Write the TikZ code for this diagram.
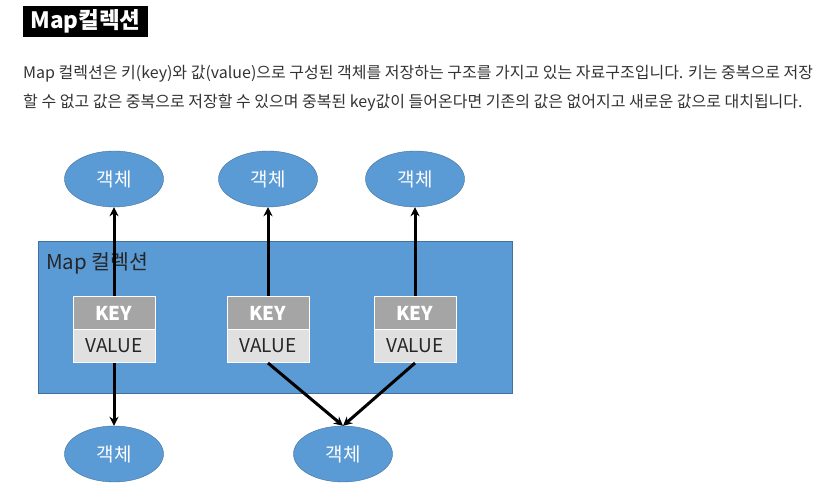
\documentclass[tikz,border=0pt]{standalone}
\usepackage{fontspec}
\setmainfont{Noto Sans CJK KR}
\usetikzlibrary{shapes.geometric,arrows.meta}
\definecolor{mapblue}{HTML}{5B9BD5}
\definecolor{mapedge}{HTML}{41719C}
\definecolor{keygray}{HTML}{A5A5A5}
\definecolor{valgray}{HTML}{E0E0E0}
\definecolor{paratext}{HTML}{333333}
\begin{document}
\begin{tikzpicture}[x=1pt,y=-1pt,>={Stealth[length=9pt,width=9pt]},
  obj/.style={ellipse,draw=mapedge,fill=mapblue,minimum width=99pt,minimum height=56pt,
    inner sep=0pt,text=white,font=\fontsize{19}{19}\selectfont},
  keybox/.style={rectangle,draw=white,line width=1pt,fill=keygray,minimum width=82pt,
    minimum height=33pt,inner sep=0pt,text=white,font=\fontsize{19}{19}\selectfont\bfseries},
  valbox/.style={keybox,fill=valgray,text=black!85,font=\fontsize{19}{19}\selectfont},
  link/.style={->,line width=3pt}]
 \useasboundingbox[fill=white] (0,0) rectangle (838,502);
 % title and text
 \node[fill=black,text=white,minimum width=125pt,minimum height=31pt,inner sep=0pt,
   font=\fontsize{22.5}{22.5}\selectfont\bfseries] (title) at (85.5,21.5) {Map컬렉션};
 \node[anchor=base west,inner sep=0pt,text=paratext,font=\fontsize{16}{16}\selectfont] (line1) at (23,79)
   {Map 컬렉션은 키(key)와 값(value)으로 구성된 객체를 저장하는 구조를 가지고 있는 자료구조입니다. 키는 중복으로 저장};
 \node[anchor=base west,inner sep=0pt,text=paratext,font=\fontsize{16}{16}\selectfont] (line2) at (23,108)
   {할 수 없고 값은 중복으로 저장할 수 있으며 중복된 key값이 들어온다면 기존의 값은 없어지고 새로운 값으로 대치됩니다.};
 % map collection
 \path[fill=mapblue,draw=mapedge] (38,241) rectangle (512,393);
 \node[anchor=west,inner sep=0pt,text=black!85,font=\fontsize{20.5}{20.5}\selectfont] (maplabel) at (46,263) {Map 컬렉션};
 \foreach \n/\x in {1/114,2/268,3/415}{%
  \node[keybox] (key\n) at (\x,313) {KEY};
  \node[valbox] (val\n) at (\x,346) {VALUE};
 }
 \foreach \n/\x/\y in {1/114/179,2/268/179,3/415/179,4/114/454,5/343/454}{%
  \node[obj] (obj\n) at (\x,\y) {객체};
 }
 \foreach \a/\b in {key1.north/obj1.south,key2.north/obj2.south,key3.north/obj3.south,
   val1.south/obj4.north,val2.south/obj5.north,val3.south/obj5.north}{%
  \draw[link] (\a)--(\b);
 }
\end{tikzpicture}
\end{document}
